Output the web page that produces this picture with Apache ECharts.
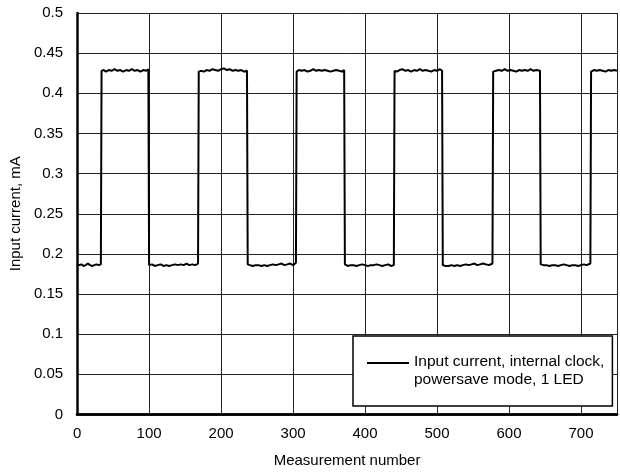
<!DOCTYPE html>
<html>
<head>
<meta charset="utf-8">
<script src="https://cdn.jsdelivr.net/npm/echarts@6/dist/echarts.min.js"></script>
<style>html,body{margin:0;padding:0;background:#fff}#c{width:620px;height:473px}</style>
</head>
<body>
<div id="c"></div>
<script>
var measurement = [
  0,3,6,9,12,15,18,21,24,27,30,33,
  34,37,40,44,48,52,56,60,64,68,72,76,80,84,88,92,96,99,
  100,104,108,112,116,120,124,128,132,136,140,144,148,152,156,160,164,168,
  169,172,176,180,184,188,192,196,200,204,208,212,216,220,224,228,232,236,
  237,240,244,248,252,256,260,264,268,272,276,280,284,288,292,296,300,304,
  305,308,312,316,320,324,328,332,336,340,344,348,352,356,360,364,368,371,
  372,376,380,384,388,392,396,400,404,408,412,416,420,424,428,432,436,440,
  441,444,448,452,456,460,464,468,472,476,480,484,488,492,496,500,504,507,
  508,512,516,520,524,528,532,536,540,544,548,552,556,560,564,568,572,577,
  578,582,586,590,594,598,602,606,610,614,618,622,626,630,634,638,643,
  644,648,652,656,660,664,668,672,676,680,684,688,692,696,700,704,708,713,
  714,718,722,726,730,734,738,742,746,750
];
var currentMA = [
  0.187,0.186,0.187,0.185,0.186,0.188,0.186,0.185,0.186,0.187,0.186,0.187,
  0.428,0.429,0.427,0.429,0.428,0.430,0.428,0.429,0.427,0.429,0.428,0.430,0.428,0.429,0.427,0.429,0.428,0.430,
  0.186,0.187,0.185,0.186,0.187,0.185,0.186,0.185,0.186,0.187,0.186,0.187,0.186,0.188,0.186,0.187,0.186,0.188,
  0.427,0.428,0.427,0.429,0.428,0.430,0.429,0.428,0.430,0.431,0.429,0.430,0.428,0.429,0.428,0.429,0.427,0.428,
  0.187,0.186,0.185,0.186,0.186,0.185,0.186,0.185,0.186,0.187,0.186,0.187,0.188,0.186,0.187,0.188,0.186,0.189,
  0.427,0.429,0.428,0.429,0.427,0.428,0.430,0.428,0.429,0.428,0.429,0.428,0.427,0.428,0.429,0.428,0.427,0.429,
  0.187,0.185,0.186,0.186,0.185,0.186,0.187,0.186,0.185,0.186,0.186,0.187,0.186,0.185,0.186,0.187,0.185,0.186,
  0.428,0.427,0.429,0.430,0.428,0.429,0.427,0.429,0.428,0.430,0.428,0.429,0.428,0.427,0.429,0.428,0.430,0.428,
  0.186,0.185,0.185,0.186,0.185,0.186,0.185,0.186,0.187,0.186,0.187,0.188,0.186,0.187,0.188,0.187,0.186,0.188,
  0.427,0.428,0.429,0.428,0.430,0.428,0.429,0.428,0.427,0.429,0.428,0.429,0.428,0.430,0.428,0.429,0.428,
  0.187,0.186,0.186,0.185,0.186,0.186,0.185,0.186,0.187,0.186,0.185,0.186,0.186,0.185,0.186,0.187,0.186,0.188,
  0.427,0.429,0.428,0.429,0.428,0.427,0.429,0.428,0.429,0.428
];
var seriesName = 'Input current, internal clock,\npowersave mode, 1 LED';
var xTicks = [0, 100, 200, 300, 400, 500, 600, 700];
var yTicks = [0, 0.05, 0.1, 0.15, 0.2, 0.25, 0.3, 0.35, 0.4, 0.45, 0.5];

var pts = measurement.map(function (x, i) { return [x, currentMA[i]]; });
var font = 'Liberation Sans, Arial, sans-serif';

var chart = echarts.init(document.getElementById('c'), null, { renderer: 'canvas' });
chart.setOption({
  animation: false,
  backgroundColor: '#fff',
  grid: { left: 77, right: 0, top: 13, bottom: 55, containLabel: false },
  legend: {
    data: [seriesName],
    left: 353, top: 336,
    orient: 'vertical',
    backgroundColor: '#fff',
    borderColor: '#000',
    borderWidth: 1.5,
    borderRadius: 0,
    padding: [17, 8, 17, 14],
    itemWidth: 42, itemHeight: 18,
    itemGap: 0,
    icon: 'path://M0,0L42,0L42,2L0,2Z M0,18L0.01,18L0,17.99Z',
    textStyle: { fontFamily: font, fontSize: 15.5, color: '#000', lineHeight: 18 },
    itemStyle: { color: '#000' }
  },
  xAxis: [{
    type: 'value', min: 0, max: 750, interval: 100,
    name: 'Measurement number', nameLocation: 'middle', nameGap: 38.5,
    nameTextStyle: { fontFamily: font, fontSize: 15, color: '#000' },
    axisLine: { show: true, onZero: false, lineStyle: { color: '#000', width: 2.5 } },
    axisTick: { show: false },
    axisLabel: { fontFamily: font, fontSize: 15, color: '#000', margin: 11.5,
      formatter: function (v) { return xTicks.indexOf(v) >= 0 ? String(v) : ''; } },
    splitLine: { show: true, lineStyle: { color: '#222', width: 1 } }
  }, {
    type: 'value', min: 0, max: 750, interval: 100, position: 'top',
    axisLine: { show: true, lineStyle: { color: '#000', width: 2.5 } },
    axisTick: { show: false }, axisLabel: { show: false }, splitLine: { show: false }
  }],
  yAxis: {
    type: 'value', min: 0, max: 0.5, interval: 0.05,
    name: 'Input current, mA', nameLocation: 'middle', nameGap: 49, nameRotate: 90,
    nameTextStyle: { fontFamily: font, fontSize: 15, color: '#000' },
    axisLine: { show: true, lineStyle: { color: '#000', width: 2.5 } },
    axisTick: { show: false },
    axisLabel: { fontFamily: font, fontSize: 15, color: '#000', margin: 14,
      formatter: function (v) {
        for (var i = 0; i < yTicks.length; i++) {
          if (Math.abs(yTicks[i] - v) < 1e-9) return String(yTicks[i]);
        }
        return '';
      } },
    splitLine: { show: true, lineStyle: { color: '#222', width: 1 } }
  },
  series: [{
    name: seriesName,
    type: 'line',
    xAxisIndex: 0,
    data: pts,
    showSymbol: false,
    symbol: 'none',
    lineStyle: { color: '#000', width: 2 },
    itemStyle: { color: '#000' },
    clip: true
  }]
});
</script>
</body>
</html>
